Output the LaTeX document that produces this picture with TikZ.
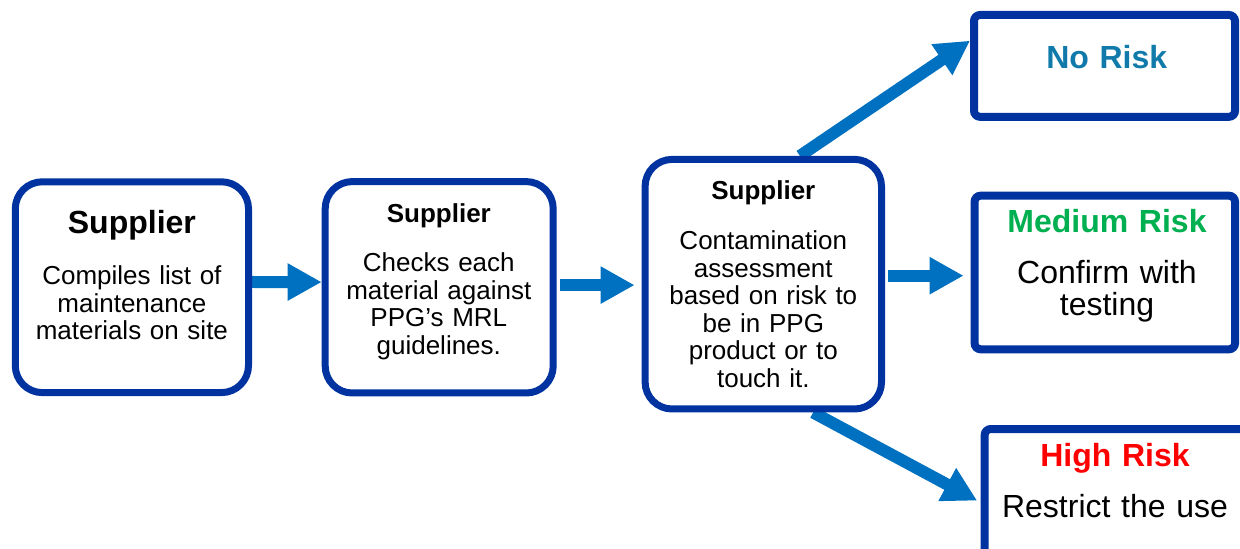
\documentclass[tikz,border=0pt]{standalone}
\usepackage{fontspec}
\setmainfont{Liberation Sans}
\usepackage{xcolor}
\usepackage{tikz}
\usetikzlibrary{arrows.meta,positioning,calc,backgrounds}
\definecolor{ppgnavy}{RGB}{0,51,160}
\definecolor{ppgblue}{RGB}{0,112,192}
\definecolor{norisk}{RGB}{16,122,170}
\definecolor{medrisk}{RGB}{0,176,80}
\definecolor{highrisk}{RGB}{255,0,0}
\newcommand{\boxtitle}[2]{{\fontsize{#1}{#1}\selectfont\bfseries #2}}
\tikzset{stepbox/.style={rectangle, rounded corners=13.5pt, draw=ppgnavy, line width=3.5pt, fill=white}, riskbox/.style={rectangle, rounded corners=3pt, draw=ppgnavy, line width=4pt, fill=white}, steptext/.style={anchor=base, align=center, inner sep=0pt, text width=112pt, font=\fontsize{13}{13.75}\selectfont}, risktext/.style={anchor=base, align=center, inner sep=0pt, text width=128pt, font=\fontsize{16}{16.35}\selectfont}, flowarrow/.style={-{Triangle[length=17pt, width=17.5pt]}, line width=6pt, draw=ppgblue}}

\begin{document}
\begin{tikzpicture}[x=0.5pt, y=-0.5pt]
\useasboundingbox (0,0) rectangle (1240,549);
\clip (0,0) rectangle (1240,549);
\node[stepbox, minimum width=116.6pt, minimum height=105.4pt] (compile) at (131.9,287.2) {};
\node[stepbox, minimum width=114pt, minimum height=105.7pt] (check) at (439.2,287.3) {};
\node[stepbox, minimum width=118.2pt, minimum height=124.8pt] (assess) at (763.3,284.2) {};
\node[riskbox, minimum width=130.5pt, minimum height=50.9pt] (none) at (1104.5,65.9) {};
\node[riskbox, minimum width=130.2pt, minimum height=76.8pt] (medium) at (1104.8,272.5) {};
\node[riskbox, minimum width=130.5pt, minimum height=71pt] (high) at (1115.2,500) {};
\node[steptext] (compiletext) at (131.9,234) {\boxtitle{16}{Supplier}\\[11.75pt] Compiles list of\\maintenance\\materials on site};
\node[steptext] (checktext) at (438.8,222.3) {\boxtitle{13}{Supplier}\\[10.95pt] Checks each\\material against\\PPG’s MRL\\guidelines.};
\node[steptext] (assesstext) at (763.3,200) {\boxtitle{13}{Supplier}\\[11.25pt] Contamination\\assessment\\based on risk to\\be in PPG\\product or to\\touch it.};
\node[risktext, text=norisk] (nonetext) at (1106.7,68.3) {\boxtitle{16}{No Risk}};
\node[risktext] (mediumtext) at (1107,232.7) {\textcolor{medrisk}{\boxtitle{16}{Medium Risk}}\\[8.95pt] Confirm with\\testing};
\node[risktext] (hightext) at (1115,466.7) {\textcolor{highrisk}{\boxtitle{16}{High Risk}}\\[8.95pt] Restrict the use};
\begin{scope}[on background layer]
\draw[flowarrow] ([yshift=2.6pt]compile.east) -- ([yshift=2.6pt]check.west);
\draw[flowarrow, shorten <=1.5pt, shorten >=3.5pt] ([yshift=1.1pt]check.east) -- ([yshift=1.1pt]check.east -| assess.west);
\draw[flowarrow, shorten <=1.5pt, shorten >=3.5pt] ([yshift=-1.6pt]medium.west -| assess.east) -- ([yshift=-1.6pt]medium.west);
\draw[flowarrow] ([xshift=18.3pt]assess.north) -- ([yshift=12.6pt]none.west);
\draw[flowarrow, shorten >=2pt] ([xshift=24.9pt]assess.south) -- ([yshift=-1.25pt]high.west);
\end{scope}
\end{tikzpicture}
\end{document}
